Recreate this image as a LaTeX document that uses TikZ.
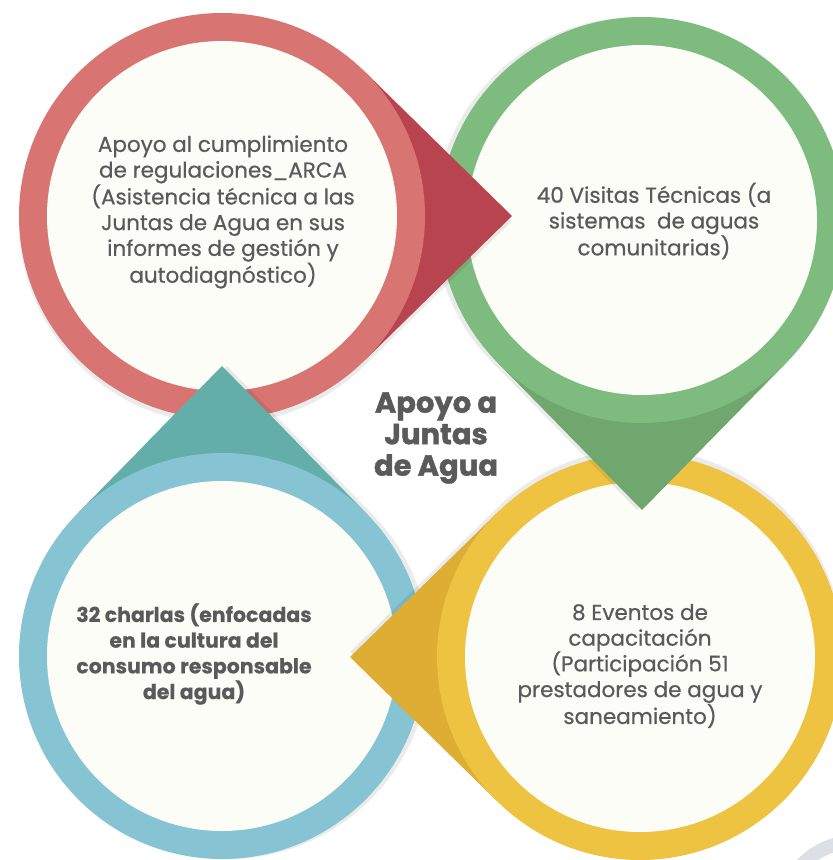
\documentclass[tikz,border=0pt]{standalone}
\usepackage{fontspec}
\setmainfont{Poppins}[UprightFeatures={FakeBold=0.6}, BoldFeatures={FakeBold=0.4}]
\newfontfamily\heavyfont{Poppins}[BoldFeatures={FakeBold=1.4}]
\usepackage{tikz}
\usetikzlibrary{calc}
\definecolor{RedRing}{HTML}{D87472}
\definecolor{RedTip}{HTML}{B8444F}
\definecolor{GreenRing}{HTML}{7DBB7E}
\definecolor{GreenTip}{HTML}{6FA76E}
\definecolor{YellowRing}{HTML}{EEC341}
\definecolor{YellowTip}{HTML}{DEAD33}
\definecolor{BlueRing}{HTML}{86C3D3}
\definecolor{BlueTip}{HTML}{64AEAA}
\definecolor{Paper}{HTML}{FDFDF8}
\definecolor{Ink}{HTML}{5A5A5A}
\definecolor{Ghost}{HTML}{DCDFE5}
\tikzset{
  dropshade/.style={fill=black, fill opacity=0.08},
  body/.style={align=center, text=Ink, inner sep=0pt, font=\fontsize{21.5}{25.7}\selectfont},
  bodybold/.style={body, font=\fontsize{20.5}{25.7}\selectfont\bfseries},
  heading/.style={align=center, text=Ink, inner sep=0pt, font=\fontsize{29}{31.5}\selectfont\heavyfont\bfseries},
}

\begin{document}
\begin{tikzpicture}[x=1pt, y=-1pt]
  \useasboundingbox (0,0) rectangle (833,860);

  % grey ring peeking in at the corner
  \begin{scope}
    \clip (0,0) rectangle (833,860);
    \draw[Ghost, line width=14pt] (855,915) circle (73);
  \end{scope}

  % drops: blue, yellow, green, red (each tip lies over the next ring)
  \foreach \cx/\cy/\a/\rc/\tc in {222/656/270/BlueRing/BlueTip,
                                   640/657/180/YellowRing/YellowTip,
                                   642/220/90/GreenRing/GreenTip,
                                   222/216/0/RedRing/RedTip}{
    \begin{scope}[shift={(\cx,\cy)}]
      \fill[dropshade, shift={(\a+90:5)}] (\a+45:203) -- (\a:290) -- (\a-45:203)
        arc[start angle=\a-45, end angle=\a-315, radius=203] -- cycle;
      \fill[\tc] (\a+45:203) -- (\a:290) -- (\a-45:203) -- cycle;
      \fill[\rc] (0,0) circle (203);
      \fill[Paper] (0,0) circle (175);
    \end{scope}
  }

  % blue tip again, over the red ring
  \begin{scope}[shift={(222,656)}]
    \begin{scope}
      \clip (0,-440) circle (203);
      \fill[dropshade, shift={(0:5)}] (315:203) -- (270:290) -- (225:203) -- cycle;
    \end{scope}
    \clip (-250,-300) rectangle (250,-211);
    \fill[BlueTip] (315:203) -- (270:290) -- (225:203) -- cycle;
  \end{scope}

  % Labels
  \node[body] (arca) at (223,212) {Apoyo al cumplimiento\\de regulaciones\_ARCA\\(Asistencia técnica a las\\Juntas de Agua en sus\\informes de gestión y\\autodiagnóstico)};
  \node[body] (visitas) at (654,221) {40 Visitas Técnicas (a\\sistemas~ de aguas\\comunitarias)};
  \node[bodybold] (charlas) at (194,654) {32 charlas (enfocadas\\en la cultura del\\consumo responsable\\del agua)};
  \node[body] (eventos) at (640,666) {8 Eventos de\\capacitación\\(Participación 51\\prestadores de agua y\\saneamiento)};
  \node[heading] (title) at (436,438) {Apoyo a\\Juntas\\de Agua};
\end{tikzpicture}
\end{document}
